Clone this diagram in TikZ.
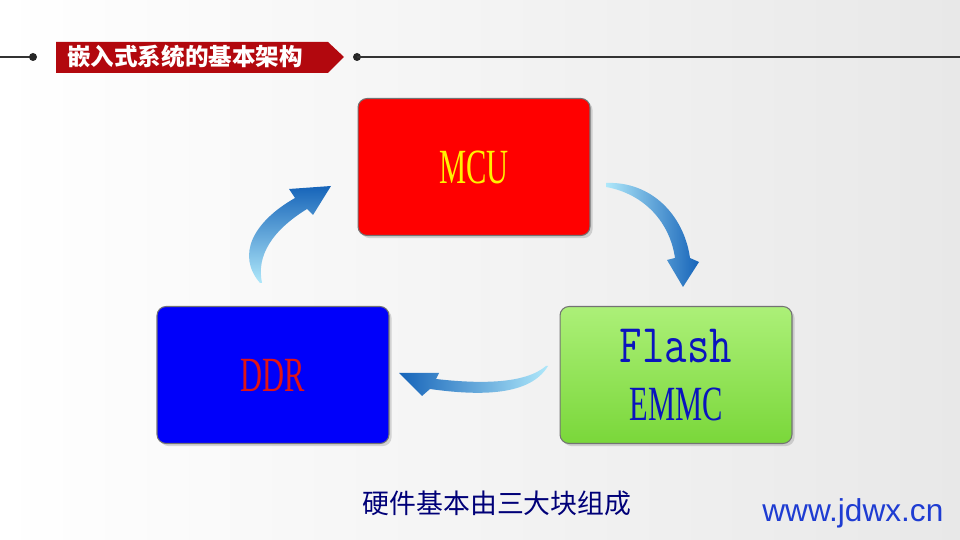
\documentclass[tikz,border=0pt]{standalone}
\usepackage{fontspec}
\usepackage{graphicx}
\setmainfont{Liberation Serif}
\newfontfamily\cjkfont{Noto Sans CJK SC}
\newfontfamily\webfont{Liberation Sans}
\usetikzlibrary{shadows}

\definecolor{bannerred}{RGB}{178,8,14}
\definecolor{boxred}{RGB}{255,0,0}
\definecolor{boxblue}{RGB}{0,0,250}
\definecolor{greentop}{RGB}{172,240,120}
\definecolor{greenbot}{RGB}{122,215,58}
\definecolor{textblue}{RGB}{10,20,190}
\definecolor{textred}{RGB}{225,20,20}
\definecolor{arrowdark}{RGB}{22,100,185}
\definecolor{arrowlight}{RGB}{175,232,250}
\definecolor{navy}{RGB}{0,0,120}
\definecolor{webblue}{RGB}{30,60,210}

\newcommand{\drawDot}[2]{\fill[black!85] (#1,#2) circle (4);}
\newcommand{\narrow}[1]{\scalebox{0.62}[1]{#1}}

\tikzset{
    block/.style={draw=black!55, line width=0.6pt, rounded corners=0.18cm,
        minimum width=4.64cm, minimum height=2.74cm, inner sep=0pt, align=center,
        font=\fontsize{28}{33}\selectfont,
        drop shadow={opacity=0.3, shadow xshift=1.5pt, shadow yshift=-1.5pt}},
}

\begin{document}
\begin{tikzpicture}[x=0.02cm, y=0.02cm]
        \useasboundingbox (0,0) rectangle (960,540);
        \shade[left color=white, right color=black!9] (0,0) rectangle (960,540);

        % Draw title bar
        \draw[black!80, line width=0.8pt] (0,483) -- (33,483);
        \drawDot{33}{483}
        \fill[bannerred] (56,498) -- (328,498) -- (344,483) -- (328,467) -- (56,467) -- cycle;
        \node[anchor=west, text=white, inner sep=0pt, font=\cjkfont\bfseries\fontsize{13.4}{14}\selectfont] (title) at (67,483) {嵌入式系统的基本架构};
        \drawDot{357}{483}
        \draw[black!80, line width=0.8pt] (357,483) -- (960,483);

        % Draw the three blocks
        \node[block, fill=boxred] (mcu) at (474,373) {\narrow{\color{yellow}MCU}};
        \node[block, top color=greentop, bottom color=greenbot, text=textblue] (flash) at (676,165)
            {{\ttfamily\fontsize{31}{33}\selectfont\scalebox{0.8}[1]{Flash}}\\\narrow{EMMC}};
        \node[block, fill=boxblue] (ddr) at (273,165) {\narrow{\color{textred}DDR}};

        % Draw curved arrows
        \shade[top color=arrowdark, middle color=arrowdark!92!arrowlight, bottom color=arrowlight]
            (260,257) .. controls (236,285) and (253,318) .. (295,342) -- (289,351) -- (331,354)
            -- (313,325) -- (307,331) .. controls (273,310) and (256,285) .. (262,257) -- cycle;
        \shade[left color=arrowlight, middle color=arrowdark!92!arrowlight, right color=arrowdark]
            (606,357) .. controls (651,359) and (684,325) .. (690,282) -- (699,278) -- (683,253)
            -- (667,280) -- (675,282) .. controls (670,317) and (645,346) .. (606,353) -- cycle;
        \shade[left color=arrowdark, middle color=arrowdark!90!arrowlight, right color=arrowlight]
            (548,174) .. controls (530,144) and (480,144) .. (430,151) -- (422,144) -- (399,167)
            -- (439,167) -- (436,161) .. controls (480,156) and (525,156) .. (546,174) -- cycle;

        \node[text=navy, font=\cjkfont\fontsize{15.3}{16}\selectfont] (caption) at (497,37) {硬件基本由三大块组成};
        \node[anchor=base west, inner sep=0pt, text=webblue, font=\webfont\fontsize{18}{20}\selectfont] (site) at (762,18) {www.jdwx.cn};
\end{tikzpicture}
\end{document}
